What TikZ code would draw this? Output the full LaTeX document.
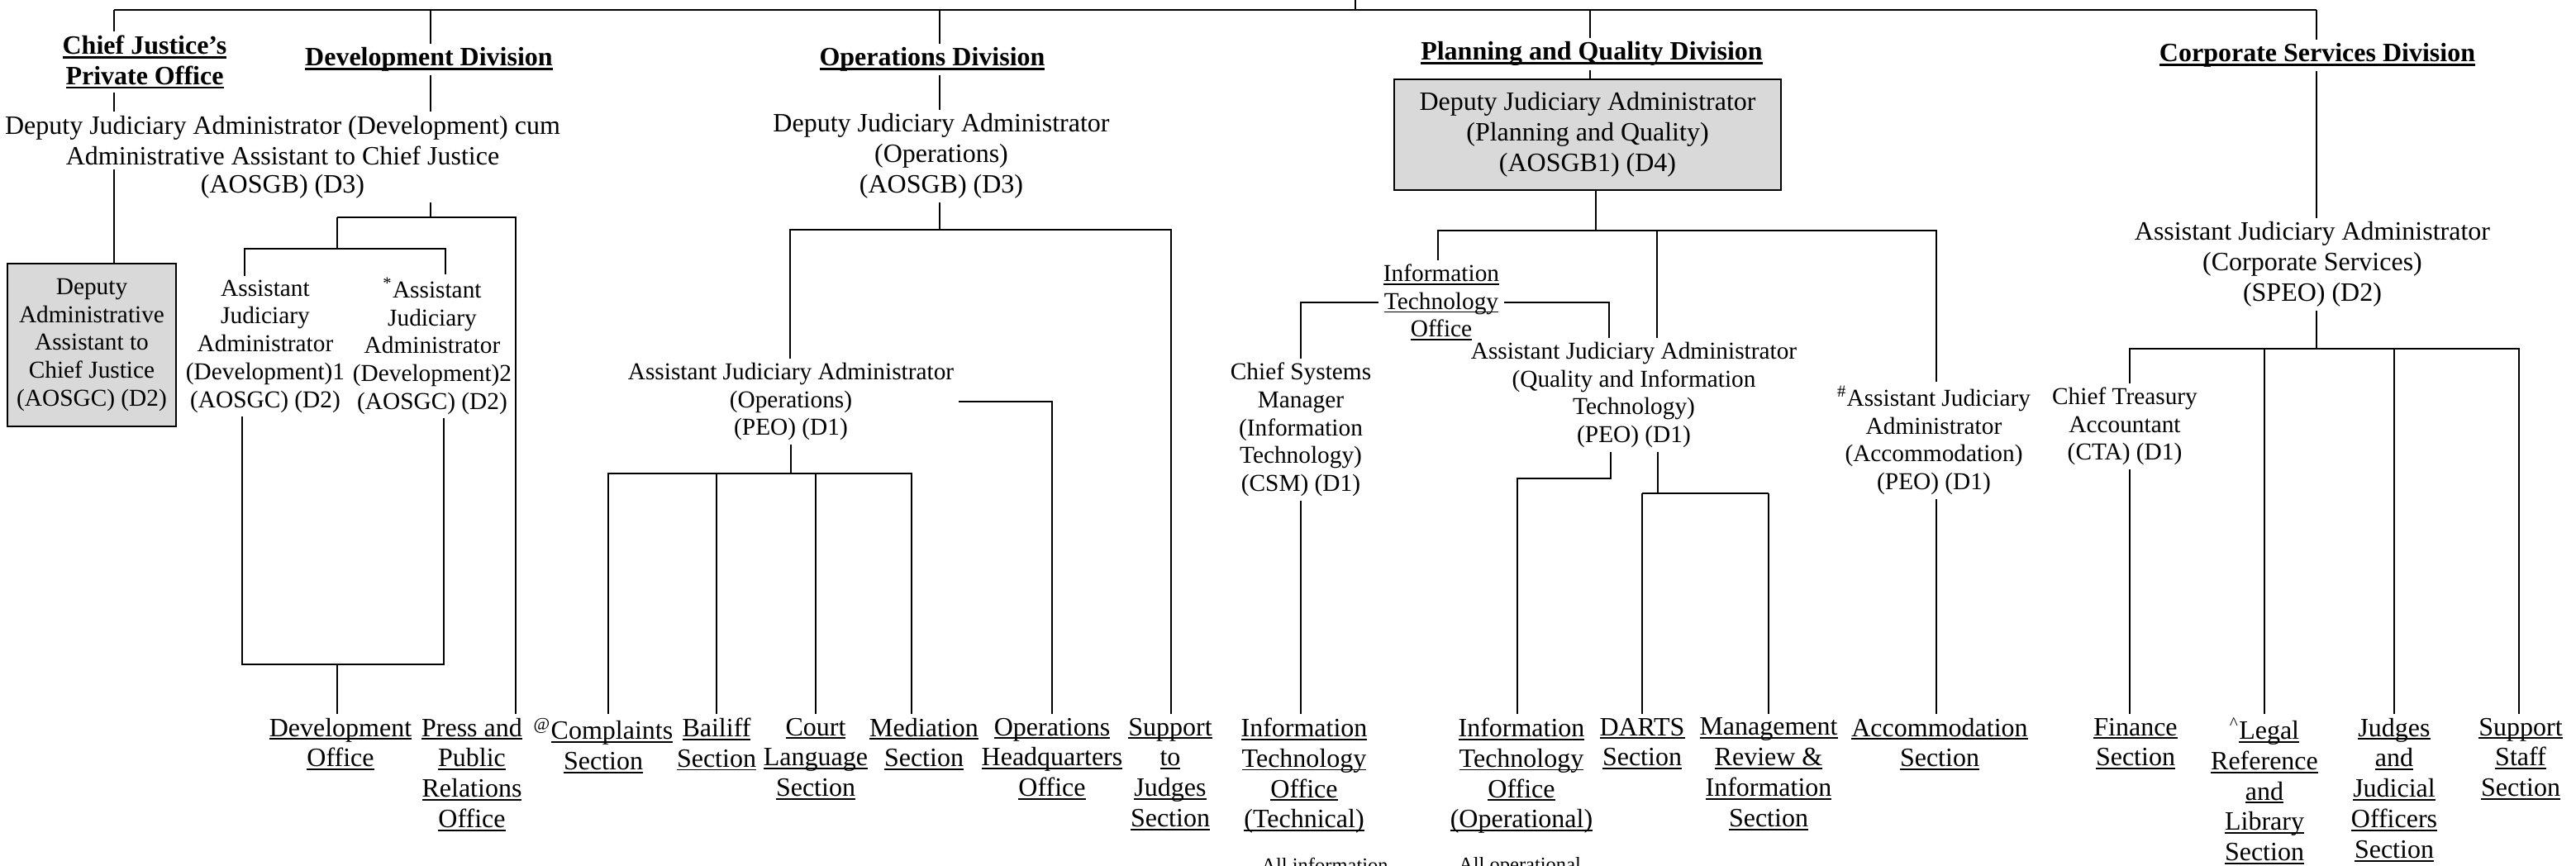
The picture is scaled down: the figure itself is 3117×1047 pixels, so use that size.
\documentclass[tikz,border=0pt]{standalone}
\usepackage{fontspec}
\setmainfont{Liberation Serif}
\newcommand\fbig{\fontsize{12}{13.8}\selectfont}
\newcommand\fsmall{\fontsize{11}{12.65}\selectfont}
\newcommand\fnote{\fontsize{9.2}{10.6}\selectfont}
\newsavebox\unbox
\newcommand\un[1]{\leavevmode\sbox\unbox{#1}\rlap{\rule[-1.6pt]{\wd\unbox}{0.7pt}}\usebox\unbox}
\newcommand\unb[1]{\leavevmode\sbox\unbox{#1}\rlap{\rule[-2pt]{\wd\unbox}{1pt}}\usebox\unbox}
\begin{document}
\begin{tikzpicture}[x=0.375pt, y=-0.375pt, line width=0.65pt,
  txt/.style={align=center, inner xsep=2pt, inner ysep=1.5pt, font=\fbig},
  sm/.style={txt, font=\fsmall},
  head/.style={txt, font=\fbig\bfseries},
  sec/.style={txt, anchor=north},
  gbox/.style={draw, line width=0.75pt, fill=black!15, align=center, inner sep=2pt},
  note/.style={align=center, inner sep=0pt, anchor=north, font=\fnote}]
\useasboundingbox (0,0) rectangle (3117,1047);
\clip (0,0) rectangle (3117,1047);

\coordinate (root) at (1640,0);
\coordinate (t1) at (138,12);
\coordinate (t2) at (521,12);
\coordinate (t3) at (1137,12);
\coordinate (t4) at (1924,12);
\coordinate (t5) at (2803,12);

% divisions
\node[head] (cjpo) at (175,75) {\unb{Chief Justice’s}\\\unb{Private Office}};
\node[head] (devdiv) at (519,72) {\unb{Development Division}};
\node[head] (opsdiv) at (1128,72) {\unb{Operations Division}};
\node[head] (pqdiv) at (1926,65) {\unb{Planning and Quality Division}};
\node[head] (csdiv) at (2804,67) {\unb{Corporate Services Division}};

\draw[line width=0.9pt] (t1) -- (t5);
\draw (root) -- (root |- t1);
\foreach \tp/\hd in {t1/cjpo, t2/devdiv, t3/opsdiv, t4/pqdiv, t5/csdiv}
  \draw (\tp) -- (\tp |- \hd.north);

% development division
\node[txt] (djadA) at (342,170) {Deputy Judiciary Administrator (Development) cum\\Administrative Assistant to Chief Justice};
\node[txt] (djadB) at (342,226) {(AOSGB) (D3)};
\node[gbox, font=\fsmall, minimum width=76.5pt, minimum height=73.9pt] (dac) at (111,417.5) {Deputy\\Administrative\\Assistant to\\Chief Justice\\(AOSGC) (D2)};
\node[sm] (ajad1) at (321,419) {Assistant\\Judiciary\\Administrator\\(Development)1\\(AOSGC) (D2)};
\node[sm] (ajad2) at (523,419) {\textsuperscript{*}Assistant\\Judiciary\\Administrator\\(Development)2\\(AOSGC) (D2)};
\node[sec] (devo) at (412,864) {\un{Development}\\\un{Office}};
\node[sec] (pr) at (571,864) {\un{Press and}\\\un{Public}\\\un{Relations}\\\un{Office}};

\coordinate (dvA) at (408,263);
\coordinate (dvB) at (624,263);
\coordinate (dvG) at (296,301);
\coordinate (dvH) at (539,301);
\coordinate (dvD) at (408,804);
\coordinate (dvE) at (293,804);
\coordinate (dvF) at (537,804);
\draw (t1 |- cjpo.south) -- (t1 |- djadA.north);
\draw (t1 |- djadA.south) -- (t1 |- dac.north);
\draw (t2 |- devdiv.south) -- (t2 |- djadA.north);
\draw (t2 |- djadB.south) -- (t2 |- dvA);
\draw (dvA) -- (dvB) -- (dvB |- pr.north);
\draw (dvA) -- (dvA |- dvG);
\draw (dvG |- ajad1.north) -- (dvG) -- (dvH) -- (dvH |- ajad2.north);
\draw (dvE |- ajad1.south) -- (dvE) -- (dvF) -- (dvF |- ajad2.south);
\draw (dvD) -- (dvD |- devo.north);

% operations division
\node[txt] (djao) at (1139,189) {Deputy Judiciary Administrator\\(Operations)\\(AOSGB) (D3)};
\node[sm] (ajao) at (957,486) {Assistant Judiciary Administrator\\(Operations)\\(PEO) (D1)};
\node[sec] (cmp) at (730,864) {\textsuperscript{@}\un{Complaints}\\\un{Section}};
\node[sec] (bai) at (867,864) {\un{Bailiff}\\\un{Section}};
\node[sec] (cls) at (987,864) {\un{Court}\\\un{Language}\\\un{Section}};
\node[sec] (med) at (1118,864) {\un{Mediation}\\\un{Section}};
\node[sec] (ohq) at (1273,864) {\un{Operations}\\\un{Headquarters}\\\un{Office}};
\node[sec] (sjs) at (1416,864) {\un{Support}\\\un{to}\\\un{Judges}\\\un{Section}};

\coordinate (opA) at (956,278);
\coordinate (opB) at (1417,278);
\coordinate (opD) at (957,573);
\coordinate (opE) at (736,573);
\coordinate (opF) at (1103,573);
\draw (t3 |- opsdiv.south) -- (t3 |- djao.north);
\draw (t3 |- djao.south) -- (t3 |- opA);
\draw (opA |- ajao.north) -- (opA) -- (opB) -- (opB |- sjs.north);
\draw (ajao.east) -| (ohq.north);
\draw (ajao.south) -- (opD);
\draw (opE |- cmp.north) -- (opE) -- (opF) -- (opF |- med.north);
\foreach \n in {bai, cls}
  \draw (\n.north |- opD) -- (\n.north);

% planning and quality division
\node[gbox, font=\fbig, minimum width=175.7pt, minimum height=50.25pt] (pqbox) at (1921,163) {Deputy Judiciary Administrator\\(Planning and Quality)\\(AOSGB1) (D4)};
\node[sm] (ito) at (1744,366) {\un{Information}\\\un{Technology}\\\un{Office}};
\node[sm] (csm) at (1574,520) {Chief Systems\\Manager\\(Information\\Technology)\\(CSM) (D1)};
\node[sm] (ajaq) at (1977,478) {Assistant Judiciary Administrator\\(Quality and Information\\Technology)\\(PEO) (D1)};
\node[sm] (ajaa) at (2340,533) {\textsuperscript{\#}Assistant Judiciary\\Administrator\\(Accommodation)\\(PEO) (D1)};
\node[sec] (itt) at (1578,864) {\un{Information}\\\un{Technology}\\\un{Office}\\\un{(Technical)}};
\node[sec] (ito2) at (1841,864) {\un{Information}\\\un{Technology}\\\un{Office}\\\un{(Operational)}};
\node[sec] (darts) at (1987,864) {\un{DARTS}\\\un{Section}};
\node[sec] (mri) at (2140,864) {\un{Management}\\\un{Review \&}\\\un{Information}\\\un{Section}};
\node[sec] (acc) at (2347,864) {\un{Accommodation}\\\un{Section}};
\node[note] (noteA) at (1603,1037) {All information};
\node[note] (noteB) at (1839,1037) {All operational};

\coordinate (pqA) at (1931,279);
\coordinate (pqB) at (1740,279);
\coordinate (pqC) at (2343,279);
\coordinate (pqD) at (2005,279);
\coordinate (pqE) at (1947,364);
\coordinate (pqF) at (1949,579);
\coordinate (pqG) at (1836,579);
\coordinate (pqH) at (2006,597);
\draw (t4 |- pqdiv.south) -- (t4 |- pqbox.north);
\draw (pqA |- pqbox.south) -- (pqA);
\draw (pqB |- ito.north) -- (pqB) -- (pqC) -- (pqC |- ajaa.north);
\draw (pqD) -- (pqD |- ajaq.north);
\draw (ito.west) -| (csm.north);
\draw (ito.east) -| (pqE |- ajaq.north);
\draw (csm.south) -- (csm.south |- itt.north);
\draw (pqF |- ajaq.south) -- (pqF) -- (pqG) -- (pqG |- ito2.north);
\draw (pqH |- ajaq.south) -- (pqH);
\draw (darts.north |- pqH) -- (mri.north |- pqH);
\foreach \n in {darts, mri}
  \draw (\n.north |- pqH) -- (\n.north);
\draw (pqC |- ajaa.south) -- (pqC |- acc.north);

% corporate services division
\node[txt] (ajacs) at (2798,320) {Assistant Judiciary Administrator\\(Corporate Services)\\(SPEO) (D2)};
\node[sm] (cta) at (2571,516) {Chief Treasury\\Accountant\\(CTA) (D1)};
\node[sec] (fin) at (2584,864) {\un{Finance}\\\un{Section}};
\node[sec] (lrl) at (2740,864) {\textsuperscript{\textasciicircum}\un{Legal}\\\un{Reference}\\\un{and}\\\un{Library}\\\un{Section}};
\node[sec] (jjo) at (2897,864) {\un{Judges}\\\un{and}\\\un{Judicial}\\\un{Officers}\\\un{Section}};
\node[sec] (sss) at (3050,864) {\un{Support}\\\un{Staff}\\\un{Section}};

\coordinate (csA) at (2577,422);
\coordinate (csB) at (3048,422);
\draw (t5 |- csdiv.south) -- (t5 |- ajacs.north);
\draw (t5 |- ajacs.south) -- (t5 |- csA);
\draw (csA |- cta.north) -- (csA) -- (csB) -- (csB |- sss.north);
\foreach \n in {lrl, jjo}
  \draw (\n.north |- csA) -- (\n.north);
\draw (csA |- cta.south) -- (csA |- fin.north);
\end{tikzpicture}
\end{document}
